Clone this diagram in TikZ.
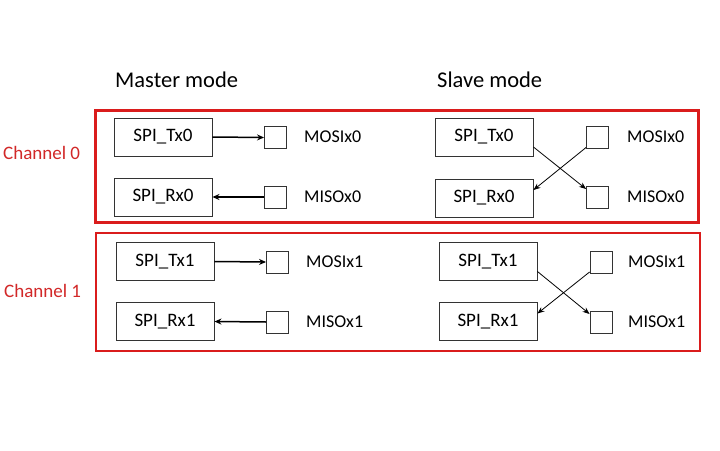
\documentclass[tikz,border=0pt]{standalone}
\usepackage{fontspec}
\setmainfont{Carlito}
\usetikzlibrary{arrows.meta}
\definecolor{boxred}{RGB}{218,28,28}
\definecolor{txtred}{RGB}{210,40,40}
\begin{document}
\begin{tikzpicture}[x=1pt,y=-1pt,
  blk/.style={draw=black!80,line width=0.9pt,minimum width=98pt,minimum height=38pt,inner sep=0pt,font=\fontsize{19}{21}\selectfont},
  sq/.style={draw=black!80,line width=0.9pt,minimum width=22pt,minimum height=22pt,inner sep=0pt},
  lbl/.style={anchor=west,inner sep=0pt,font=\fontsize{18}{20}\selectfont},
  ttl/.style={anchor=west,inner sep=0pt,font=\fontsize{22.5}{25}\selectfont},
  chl/.style={anchor=west,inner sep=0pt,text=txtred,font=\fontsize{19}{22}\selectfont},
  chbox/.style={draw=boxred,line width=2.4pt},
  marr/.style={line width=1.5pt,-{Stealth[length=7pt,width=6pt]}},
  sarr/.style={line width=0.8pt,-{Stealth[length=7pt,width=5.5pt]}}
]
\useasboundingbox[fill=white] (0,0) rectangle (720,450);
% titles
\node[ttl] (tm) at (115,80) {Master mode};
\node[ttl] (ts) at (437,80) {Slave mode};
\node[chl] (c0) at (3,153) {Channel 0};
\node[chl] (c1) at (4,291) {Channel 1};
% channel boxes
\node[chbox,minimum width=603pt,minimum height=112pt,inner sep=0pt] (b0) at (397,166.5) {};
\node[chbox,minimum width=604pt,minimum height=118pt,inner sep=0pt] (b1) at (398,292) {};
% channel 0 master
\node[blk] (mtx0) at (163,137) {SPI\_Tx0};
\node[blk] (mrx0) at (163,197) {SPI\_Rx0};
\node[sq] (mmo0) at (275.5,137.5) {};
\node[sq] (mmi0) at (275.5,197) {};
\node[lbl] (lmo0) at (304,137) {MOSIx0};
\node[lbl] (lmi0) at (304,197) {MISOx0};
\draw[marr] (mtx0.east) -- (mmo0.west);
\draw[marr] (mmi0.west) -- (mrx0.east);
% channel 0 slave
\node[blk] (stx0) at (484,137) {SPI\_Tx0};
\node[blk] (srx0) at (484,198) {SPI\_Rx0};
\node[sq] (smo0) at (597.5,137.5) {};
\node[sq] (smi0) at (597.5,197) {};
\node[lbl] (lsmo0) at (627,137) {MOSIx0};
\node[lbl] (lsmi0) at (627,197) {MISOx0};
\draw[sarr] ([yshift=-10pt]stx0.east) -- ([yshift=8pt]smi0.west);
\draw[sarr] ([yshift=-10pt]smo0.west) -- ([yshift=8pt]srx0.east);
% channel 1 master
\node[blk] (mtx1) at (165,261.5) {SPI\_Tx1};
\node[blk] (mrx1) at (165,321.5) {SPI\_Rx1};
\node[sq] (mmo1) at (277.5,262) {};
\node[sq] (mmi1) at (277.5,322) {};
\node[lbl] (lmo1) at (306,262) {MOSIx1};
\node[lbl] (lmi1) at (306,322) {MISOx1};
\draw[marr] (mtx1.east) -- (mmo1.west);
\draw[marr] (mmi1.west) -- (mrx1.east);
% channel 1 slave
\node[blk] (stx1) at (488,261.5) {SPI\_Tx1};
\node[blk] (srx1) at (488,321.5) {SPI\_Rx1};
\node[sq] (smo1) at (601,262) {};
\node[sq] (smi1) at (601,322) {};
\node[lbl] (lsmo1) at (628,262) {MOSIx1};
\node[lbl] (lsmi1) at (628,322) {MISOx1};
\draw[sarr] ([yshift=-10pt]stx1.east) -- ([yshift=8pt]smi1.west);
\draw[sarr] ([yshift=-10pt]smo1.west) -- ([yshift=8pt]srx1.east);
\end{tikzpicture}
\end{document}
